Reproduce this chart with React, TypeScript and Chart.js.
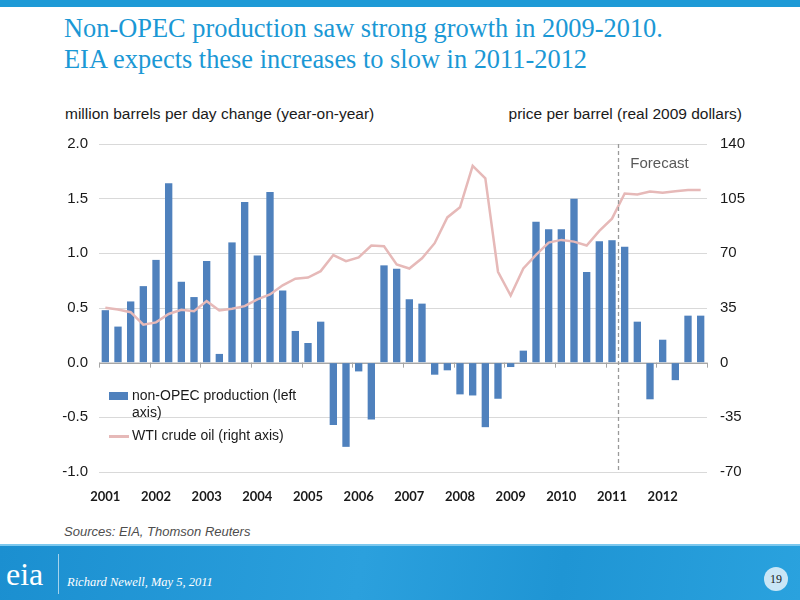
import React, { useEffect, useRef } from "react";
import { Chart, registerables } from "chart.js";

Chart.register(...registerables);

const years = ["2001", "2002", "2003", "2004", "2005", "2006", "2007", "2008", "2009", "2010", "2011", "2012"];
const quarters = ["Q1", "Q2", "Q3", "Q4"];

const nonOpecChange = [
  0.48, 0.33, 0.56, 0.70,
  0.94, 1.64, 0.74, 0.60,
  0.93, 0.08, 1.10, 1.47,
  0.98, 1.56, 0.66, 0.29,
  0.18, 0.375, -0.57, -0.77,
  -0.08, -0.52, 0.89, 0.86,
  0.58, 0.54, -0.11, -0.07,
  -0.29, -0.30, -0.59, -0.33,
  -0.04, 0.11, 1.29, 1.22,
  1.22, 1.50, 0.83, 1.11,
  1.12, 1.06, 0.375, -0.335,
  0.21, -0.16, 0.43, 0.43,
];

const wtiPrice = [
  35.1, 34.0, 32.3, 24.3,
  25.8, 31.2, 33.8, 33.0,
  39.4, 33.4, 34.5, 36.2,
  40.5, 43.7, 49.5, 53.8,
  54.5, 58.6, 68.9, 65.0,
  67.4, 75.0, 74.5, 62.9,
  60.3, 66.8, 76.5, 93.0,
  99.5, 126.0, 118.0, 58.2,
  43.0, 60.3, 69.0, 76.9,
  78.6, 77.5, 75.0, 84.4,
  92.2, 108.3, 107.7, 109.6,
  108.8, 109.8, 110.5, 110.5,
];

const leftTicks = [-1.0, -0.5, 0.0, 0.5, 1.0, 1.5, 2.0];
const rightTicks = [-70, -35, 0, 35, 70, 105, 140];
const forecastAfterIndex = 40; // 2011 Q1

const labels = years.flatMap((y) => quarters.map((q) => `${y} ${q}`));

const BAR_COLOR = "#4f81bd";
const LINE_COLOR = "#e6b9b8";

const overlayPlugin = {
  id: "overlay",
  beforeDatasetsDraw(chart: any) {
    const { ctx, chartArea, scales } = chart;
    const yl = scales.yL;
    const y0 = yl.getPixelForValue(0);
    ctx.save();
    ctx.strokeStyle = "#a6a6a6";
    ctx.lineWidth = 1;
    ctx.beginPath();
    ctx.moveTo(chartArea.left, Math.round(y0) + 0.5);
    ctx.lineTo(chartArea.right, Math.round(y0) + 0.5);
    ctx.stroke();
    const step = (chartArea.right - chartArea.left) / labels.length;
    for (let i = 0; i <= labels.length; i += 4) {
      const px = Math.round(chartArea.left + i * step) + 0.5;
      ctx.beginPath();
      ctx.moveTo(px, y0);
      ctx.lineTo(px, y0 + 5);
      ctx.stroke();
    }
    ctx.restore();
  },
  afterDatasetsDraw(chart: any) {
    const { ctx, chartArea, scales } = chart;
    const x = scales.x;
    const px =
      (x.getPixelForValue(forecastAfterIndex) + x.getPixelForValue(forecastAfterIndex + 1)) / 2;
    ctx.save();
    ctx.strokeStyle = "#9a9a9a";
    ctx.lineWidth = 1.3;
    ctx.setLineDash([4, 3]);
    ctx.beginPath();
    ctx.moveTo(Math.round(px) + 0.5, chartArea.top);
    ctx.lineTo(Math.round(px) + 0.5, chartArea.bottom);
    ctx.stroke();
    ctx.setLineDash([]);
    ctx.fillStyle = "#595959";
    ctx.font = '15px "Liberation Sans", Arial, sans-serif';
    ctx.textBaseline = "middle";
    ctx.textAlign = "left";
    ctx.fillText("Forecast", px + 12, chartArea.top + 20);
    ctx.restore();
  },
};

function ChartCanvas() {
  const ref = useRef<HTMLCanvasElement | null>(null);
  useEffect(() => {
    if (!ref.current) return;
    const chart = new Chart(ref.current, {
      type: "bar",
      data: {
        labels,
        datasets: [
          {
            type: "line",
            label: "WTI crude oil (right axis)",
            data: wtiPrice,
            yAxisID: "yR",
            borderColor: LINE_COLOR,
            borderWidth: 2.5,
            pointRadius: 0,
            tension: 0,
            order: 0,
          } as any,
          {
            type: "bar",
            label: "non-OPEC production (left axis)",
            data: nonOpecChange,
            yAxisID: "yL",
            backgroundColor: BAR_COLOR,
            categoryPercentage: 1,
            barPercentage: 0.58,
            order: 1,
          },
        ],
      },
      options: {
        animation: false,
        responsive: false,
        maintainAspectRatio: false,
        layout: { padding: { left: 40, right: 33, top: 18, bottom: 0 } },
        plugins: {
          legend: { display: false },
          tooltip: { enabled: false },
        },
        scales: {
          x: {
            type: "category",
            offset: true,
            grid: { display: false, drawTicks: false },
            border: { display: false },
            afterFit: (s: any) => {
              s.height = 45;
            },
            ticks: {
              autoSkip: false,
              maxRotation: 0,
              minRotation: 0,
              padding: 17,
              color: "#1a1a1a",
              font: { family: "Lato, 'Open Sans', sans-serif", size: 13, weight: "bold" },
              callback: (_v: any, i: number) => (i % 4 === 0 ? years[i / 4] : ""),
            },
          },
          yL: {
            type: "linear",
            position: "left",
            min: leftTicks[0],
            max: leftTicks[leftTicks.length - 1],
            afterBuildTicks: (s: any) => {
              s.ticks = leftTicks.map((v) => ({ value: v }));
            },
            afterFit: (s: any) => {
              s.width = 59;
            },
            grid: { color: "#d9d9d9", drawTicks: false, lineWidth: 1 },
            border: { display: false },
            ticks: {
              padding: 11,
              color: "#1a1a1a",
              font: { family: "'Liberation Sans', Arial, sans-serif", size: 15 },
              callback: (v: any) => Number(v).toFixed(1),
            },
          },
          yR: {
            type: "linear",
            position: "right",
            min: rightTicks[0],
            max: rightTicks[rightTicks.length - 1],
            afterBuildTicks: (s: any) => {
              s.ticks = rightTicks.map((v) => ({ value: v }));
            },
            afterFit: (s: any) => {
              s.width = 60;
            },
            grid: { display: false, drawTicks: false },
            border: { display: false },
            ticks: {
              padding: 13,
              color: "#1a1a1a",
              font: { family: "'Liberation Sans', Arial, sans-serif", size: 15 },
              callback: (v: any) => String(v),
            },
          },
        },
      },
      plugins: [overlayPlugin],
    });
    return () => chart.destroy();
  }, []);
  return <canvas ref={ref} width={800} height={395} style={{ position: "absolute", left: 0, top: 122, width: 800, height: 395 }} />;
}

export default function App() {
  const sans = "'Liberation Sans', Arial, sans-serif";
  const serif = "'Liberation Serif', 'Times New Roman', serif";
  return (
    <div style={{ position: "fixed", left: 0, top: 0, width: 800, height: 600, background: "#ffffff", overflow: "hidden" }}>
      <div style={{ position: "absolute", left: 0, top: 0, width: 800, height: 7, background: "#1e9ad6" }} />
      <div
        style={{
          position: "absolute",
          left: 64,
          top: 13,
          fontFamily: serif,
          fontSize: 26.4,
          lineHeight: "31px",
          color: "#1b98d5",
          whiteSpace: "nowrap",
        }}
      >
        <div>Non-OPEC production saw strong growth in 2009-2010.</div>
        <div>EIA expects these increases to slow in 2011-2012</div>
      </div>
      <div style={{ position: "absolute", left: 65, top: 105, fontFamily: sans, fontSize: 15.5, color: "#1a1a1a", whiteSpace: "nowrap" }}>
        million barrels per day change (year-on-year)
      </div>
      <div style={{ position: "absolute", right: 58, top: 105, fontFamily: sans, fontSize: 15.5, color: "#1a1a1a", whiteSpace: "nowrap" }}>
        price per barrel (real 2009 dollars)
      </div>
      <ChartCanvas />
      <div style={{ position: "absolute", left: 109, top: 387, fontFamily: sans, fontSize: 14, color: "#1a1a1a", lineHeight: "17px" }}>
        <div style={{ position: "relative", paddingLeft: 23, width: 175 }}>
          <span style={{ position: "absolute", left: 0, top: 5, width: 19, height: 8, background: BAR_COLOR }} />
          non-OPEC production (left axis)
        </div>
        <div style={{ position: "relative", paddingLeft: 23, marginTop: 6, whiteSpace: "nowrap" }}>
          <span style={{ position: "absolute", left: 0, top: 8, width: 20, height: 2.5, background: LINE_COLOR }} />
          WTI crude oil (right axis)
        </div>
      </div>
      <div style={{ position: "absolute", left: 64, top: 524, fontFamily: sans, fontSize: 13, fontStyle: "italic", color: "#4d4d4d" }}>
        Sources: EIA, Thomson Reuters
      </div>
      <div
        style={{
          position: "absolute",
          left: 0,
          top: 544,
          width: 800,
          height: 56,
          background: "linear-gradient(100deg, #1b8fd0 0%, #2ba0dd 45%, #1f95d4 70%, #2aa2de 100%)",
          borderTop: "2px solid #7cc8ee",
        }}
      >
        <div style={{ position: "absolute", left: 6, top: 12, fontFamily: serif, fontSize: 32, color: "#ffffff", lineHeight: "32px" }}>eia</div>
        <div style={{ position: "absolute", left: 58, top: 8, width: 1, height: 40, background: "rgba(255,255,255,0.6)" }} />
        <div style={{ position: "absolute", left: 67, top: 29, fontFamily: serif, fontSize: 12.5, fontStyle: "italic", color: "#ffffff", whiteSpace: "nowrap" }}>
          Richard Newell, May 5, 2011
        </div>
        <div
          style={{
            position: "absolute",
            left: 764,
            top: 21,
            width: 24,
            height: 24,
            borderRadius: 12,
            background: "#c9e6f6",
            color: "#1a1a1a",
            fontFamily: serif,
            fontSize: 12,
            lineHeight: "24px",
            textAlign: "center",
          }}
        >
          19
        </div>
      </div>
    </div>
  );
}
